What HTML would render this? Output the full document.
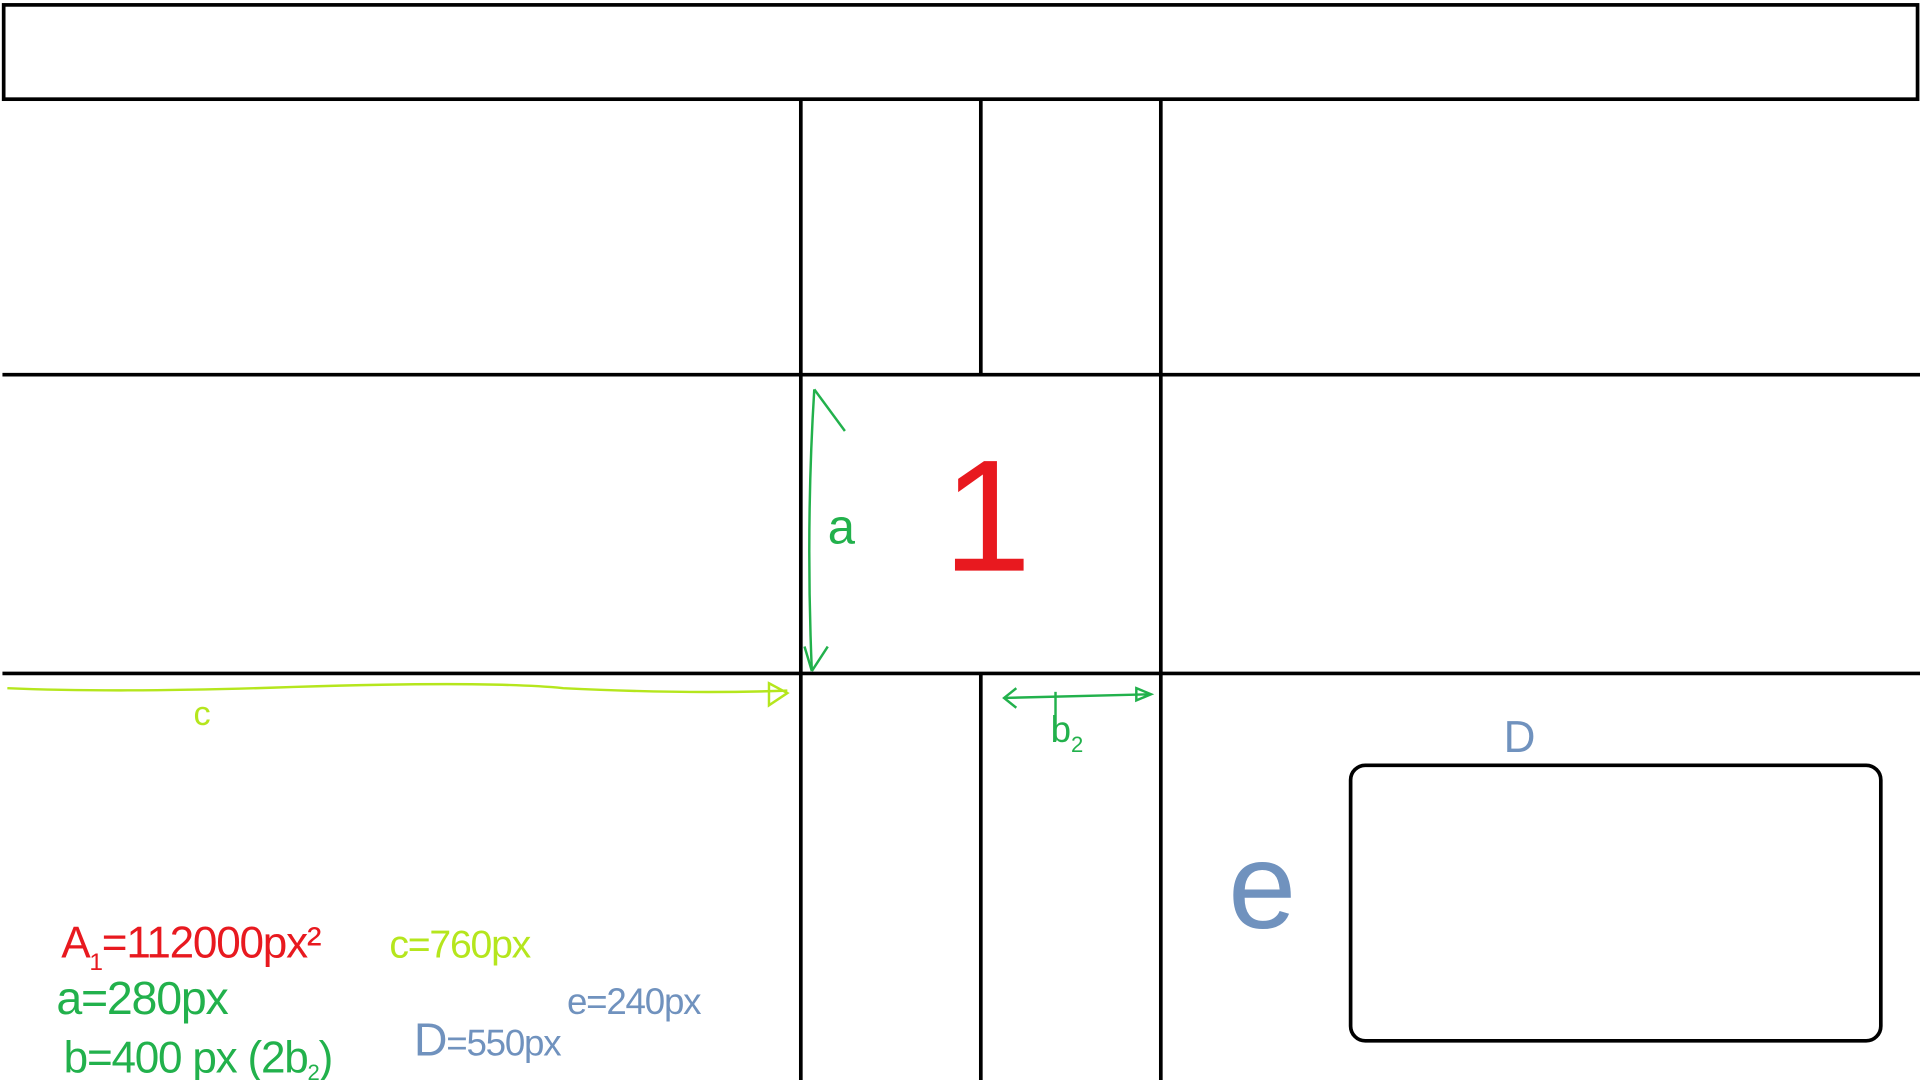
<!DOCTYPE html>
<html>
<head>
<meta charset="utf-8">
<style>
  html,body{margin:0;padding:0;background:#fff;}
  svg{display:block;}
  text{font-family:"Liberation Sans",sans-serif;}
</style>
</head>
<body>
<svg width="1920" height="1080" viewBox="0 0 1568 882" xmlns="http://www.w3.org/2000/svg">
  <rect x="0" y="0" width="1568" height="882" fill="#fff"/>
  <g stroke="#000" stroke-width="3" fill="none">
    <rect x="3" y="4" width="1563" height="77"/>
    <line x1="654" y1="81" x2="654" y2="882"/>
    <line x1="801" y1="81" x2="801" y2="306"/>
    <line x1="801" y1="550" x2="801" y2="882"/>
    <line x1="948" y1="81" x2="948" y2="882"/>
    <line x1="2" y1="306" x2="1568" y2="306"/>
    <line x1="2" y1="550" x2="1568" y2="550"/>
    <rect x="1103" y="625" width="433" height="225" rx="12"/>
  </g>

  <g stroke="#22b14c" stroke-width="2" fill="none">
    <path d="M665 318 Q658 430 663 548"/>
    <path d="M665 318 L690 352"/>
    <path d="M663 548 L676 528 M663 548 L657 528"/>
  </g>
  <text x="676" y="444" font-size="40" fill="#22b14c">a</text>

  <text x="770" y="466" font-size="130" fill="#e8191f">1</text>

  <g stroke="#b5e61d" stroke-width="2" fill="none">
    <path d="M6 562 Q100 566 240 561 Q400 556 460 562 Q560 567 643 564"/>
    <path d="M628 558 L643 566 L628 576 Z"/>
  </g>
  <text x="158" y="592" font-size="28" fill="#b5e61d">c</text>

  <g stroke="#22b14c" stroke-width="2" fill="none">
    <path d="M820 570 L940 567"/>
    <path d="M830 562 L820 570 L830 578"/>
    <path d="M928 562 L940 567 L928 572 Z"/>
    <path d="M862 565 L862 605"/>
  </g>
  <text x="858" y="606" font-size="30" fill="#22b14c">b<tspan font-size="18" dy="8">2</tspan></text>

  <text x="1228" y="614" font-size="36" fill="#7092be">D</text>
  <text x="1003" y="758" font-size="100" fill="#7092be">e</text>

  <g>
    <text x="50" y="782" font-size="36" fill="#e8191f" letter-spacing="-1">A<tspan font-size="20" dy="10">1</tspan><tspan dy="-10">=112000px²</tspan></text>
    <text x="46" y="828" font-size="38" fill="#22b14c" letter-spacing="-1">a=280px</text>
    <text x="52" y="876" font-size="36" fill="#22b14c" letter-spacing="-1">b=400 px (2b<tspan font-size="18" dy="6">2</tspan><tspan dy="-6">)</tspan></text>
    <text x="318" y="782" font-size="32" fill="#b5e61d" letter-spacing="-1">c=760px</text>
    <text x="463" y="828" font-size="30" fill="#7092be" letter-spacing="-1">e=240px</text>
    <text x="338" y="862" font-size="38" fill="#7092be" letter-spacing="-1">D<tspan font-size="30">=550px</tspan></text>
  </g>
</svg>
</body>
</html>
